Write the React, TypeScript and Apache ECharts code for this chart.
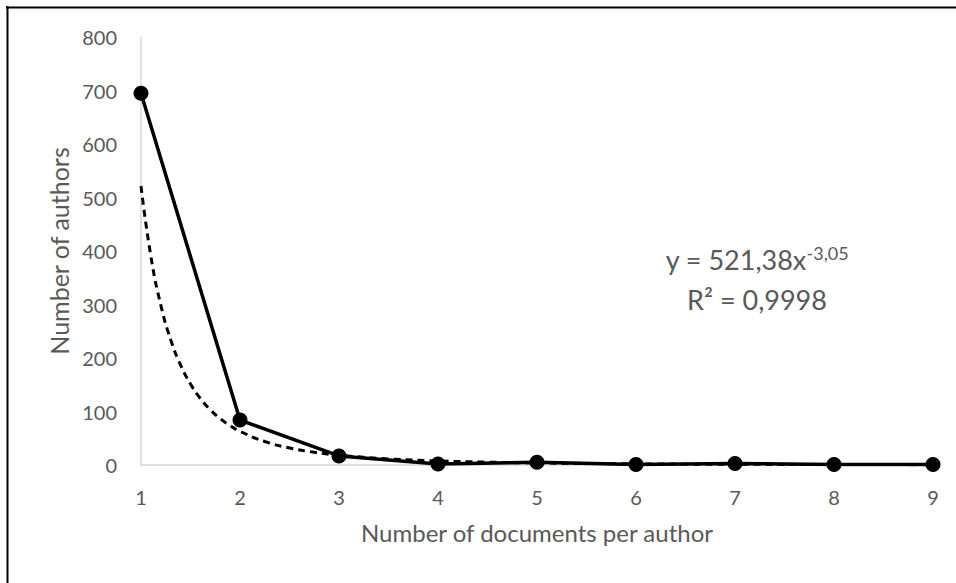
import React, { useEffect, useRef } from "react";
import * as echarts from "echarts";

const docsPerAuthor = [1, 2, 3, 4, 5, 6, 7, 8, 9];
const authors = [695, 84, 17, 2, 5, 1, 3, 1, 1];
// power trendline y = 521.38 x^-3.05, sampled values
const trendX = [1, 1.1, 1.2, 1.3, 1.4, 1.5, 1.6, 1.7, 1.8, 1.9, 2, 2.25, 2.5, 2.75, 3, 3.5, 4, 4.5, 5, 6, 7, 8, 9];
const trendY = [521.4, 389.8, 299.0, 234.2, 186.8, 151.4, 124.3, 103.3, 86.8, 73.6, 62.95, 43.96, 31.87, 23.83, 18.28, 11.42, 7.6, 5.31, 3.85, 2.21, 1.38, 0.92, 0.64];
const yTicks = { min: 0, max: 800, interval: 100 };
const xTicks = { min: 1, max: 9, interval: 1 };

const FONT = "Lato, 'Open Sans', sans-serif";
const GRAY = "#595959";

export default function App() {
  const ref = useRef<HTMLDivElement>(null);
  useEffect(() => {
    if (!ref.current) return;
    const chart = echarts.init(ref.current, null, { renderer: "svg" });
    chart.setOption({
      animation: false,
      backgroundColor: "#ffffff",
      grid: { left: 141, right: 23, top: 37, bottom: 118 },
      xAxis: {
        type: "value",
        min: xTicks.min,
        max: xTicks.max,
        interval: xTicks.interval,
        name: "Number of documents per author",
        nameLocation: "middle",
        nameGap: 55,
        nameTextStyle: { color: GRAY, fontSize: 24, fontFamily: FONT },
        axisLine: { show: true, lineStyle: { color: "#d9d9d9", width: 1.5 } },
        axisTick: { show: false },
        splitLine: { show: false },
        axisLabel: { color: GRAY, fontSize: 20, fontFamily: FONT, margin: 22 },
      },
      yAxis: {
        type: "value",
        min: yTicks.min,
        max: yTicks.max,
        interval: yTicks.interval,
        name: "Number of authors",
        nameLocation: "middle",
        nameGap: 68,
        nameTextStyle: { color: GRAY, fontSize: 25, fontFamily: FONT },
        axisLine: { show: true, lineStyle: { color: "#d9d9d9", width: 1.5 } },
        axisTick: { show: false },
        splitLine: { show: false },
        axisLabel: { color: GRAY, fontSize: 20, fontFamily: FONT, margin: 24 },
      },
      series: [
        {
          name: "Trend",
          type: "line",
          data: trendX.map((x, i) => [x, trendY[i]]),
          smooth: true,
          showSymbol: false,
          symbol: "none",
          lineStyle: { color: "#000", width: 3, type: [7, 5] },
          z: 2,
        },
        {
          name: "Authors",
          type: "line",
          data: docsPerAuthor.map((x, i) => [x, authors[i]]),
          symbol: "circle",
          symbolSize: 15,
          lineStyle: { color: "#000", width: 3.5 },
          itemStyle: { color: "#000" },
          z: 3,
        },
      ],
      graphic: [
        { type: "line", shape: { x1: 6, y1: 7.5, x2: 956, y2: 7.5 }, style: { stroke: "#000", lineWidth: 2 } },
        { type: "line", shape: { x1: 7.5, y1: 6, x2: 7.5, y2: 583 }, style: { stroke: "#000", lineWidth: 2 } },
        {
          type: "text",
          x: 757,
          y: 259,
          style: {
            text: "{a|y = 521,38x}{s|-3,05}",
            align: "center",
            verticalAlign: "middle",
            rich: {
              a: { fontSize: 27, fontFamily: FONT, fill: GRAY, color: GRAY },
              s: { fontSize: 18, fontFamily: FONT, fill: GRAY, color: GRAY, padding: [0, 0, 12, 0] },
            },
          },
        },
        {
          type: "text",
          x: 757,
          y: 299,
          style: { text: "R² = 0,9998", fontSize: 27, fontFamily: FONT, fill: GRAY, align: "center", verticalAlign: "middle" },
        },
      ],
    });
    return () => chart.dispose();
  }, []);
  return <div ref={ref} style={{ position: "absolute", left: 0, top: 0, width: 956, height: 583 }} />;
}
